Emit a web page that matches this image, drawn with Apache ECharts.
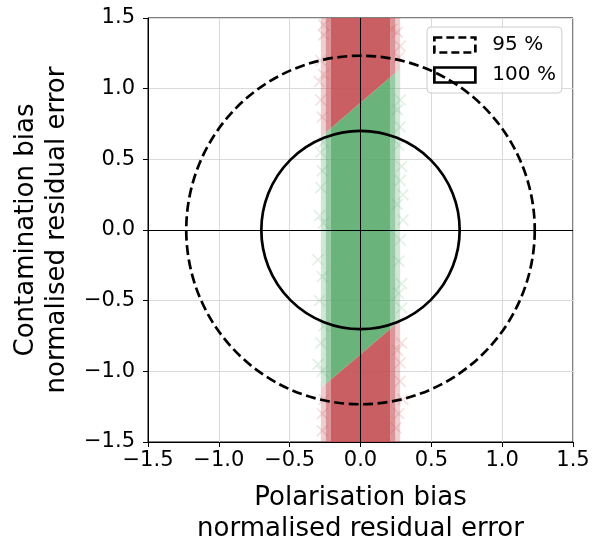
<!DOCTYPE html>
<html><head><meta charset="utf-8">
<script src="https://cdn.jsdelivr.net/npm/echarts@6/dist/echarts.min.js"></script>
<style>html,body{margin:0;padding:0;background:#fff}#c{width:592px;height:542px}</style>
</head><body><div id="c"></div>
<script>
// ---- data ----
const tickValues = [-1.5, -1.0, -0.5, 0.0, 0.5, 1.0, 1.5];
const circleNames = ['95 %', '100 %'];
const circleRadii = [1.23, 0.70];
// dense core of the sample band (polygon vertices, data coords)
const greenCore = [
  [[-0.21, -1.06], [0.21, -0.70], [0.21, 1.08], [-0.21, 0.72]]
];
const redCore = [
  [[-0.21, 0.72], [0.21, 1.08], [0.21, 1.5], [-0.21, 1.5]],
  [[-0.21, -1.5], [0.21, -1.5], [0.21, -0.70], [-0.21, -1.06]]
];
// inner fringe of the band
const greenHaloInner = [
  [[-0.245, -1.09], [-0.21, -1.06], [-0.21, 0.72], [-0.245, 0.69]],
  [[0.21, -0.70], [0.245, -0.67], [0.245, 1.11], [0.21, 1.08]]
];
const redHaloInner = [
  [[-0.245, 0.69], [-0.21, 0.72], [-0.21, 1.5], [-0.245, 1.5]],
  [[0.21, 1.08], [0.245, 1.11], [0.245, 1.5], [0.21, 1.5]],
  [[-0.245, -1.5], [-0.21, -1.5], [-0.21, -1.06], [-0.245, -1.09]],
  [[0.21, -1.5], [0.245, -1.5], [0.245, -0.67], [0.21, -0.70]]
];
// outer fringe of the band
const greenHaloOuter = [
  [[-0.28, -1.12], [-0.245, -1.09], [-0.245, 0.69], [-0.28, 0.66]],
  [[0.245, -0.67], [0.28, -0.64], [0.28, 1.14], [0.245, 1.11]]
];
const redHaloOuter = [
  [[-0.28, 0.66], [-0.245, 0.69], [-0.245, 1.5], [-0.28, 1.5]],
  [[0.245, 1.11], [0.28, 1.14], [0.28, 1.5], [0.245, 1.5]],
  [[-0.28, -1.5], [-0.245, -1.5], [-0.245, -1.09], [-0.28, -1.12]],
  [[0.245, -1.5], [0.28, -1.5], [0.28, -0.64], [0.245, -0.67]]
];
// sparse outlying samples
const greenSparse = [[-0.28, -0.80], [0.28, 0.73], [0.30, 0.07], [0.28, -0.07], [-0.30, -0.21],
  [-0.28, 0.30], [0.29, 0.45], [-0.29, -0.50], [0.29, -0.38], [0.28, 0.92], [-0.29, 0.10],
  [0.29, -0.55], [-0.28, 0.55], [0.30, 0.25], [-0.30, -0.95], [-0.27, -0.33], [0.27, -0.22],
  [-0.27, 0.42], [0.27, 0.60], [-0.26, -0.68], [0.26, 0.18], [-0.26, 0.05], [0.27, -0.45],
  [-0.27, -1.0], [0.26, 0.85], [-0.26, 0.62], [0.28, 0.35]];
const redSparse = [[-0.26, 1.38], [0.22, 1.42], [-0.28, 0.92], [0.28, -0.94], [0.28, -1.07],
  [0.25, -1.40], [-0.28, 1.20], [0.28, 1.30], [-0.27, -1.30], [0.30, -1.20], [-0.29, 1.05],
  [0.29, -0.80], [-0.27, 0.80], [0.27, 1.22], [-0.26, 1.45], [0.27, -1.30], [-0.27, -1.42],
  [0.26, -0.85], [-0.26, -1.20], [0.26, 1.40], [-0.26, 1.10]];

// ---- chart ----
const FONT = 'DejaVu Sans';
const GREEN = '#55a868', RED = '#c44e52';
const fmt = v => { const s = Number(v).toFixed(1); return s.replace('-', '\u2212'); };

function polySeries(name, polys, color, opacity, z) {
  return {
    type: 'custom', name: name, silent: true, z: z, clip: true,
    data: polys.map(p => p[0]),
    renderItem: (params, api) => {
      const poly = polys[params.dataIndex];
      return { type: 'polygon', shape: { points: poly.map(v => api.coord(v)) },
        style: { fill: color, opacity: opacity } };
    }
  };
}
function circleSeries(i) {
  return {
    type: 'custom', name: circleNames[i], silent: true, z: 5,
    data: [[0, 0, circleRadii[i]]],
    itemStyle: { color: 'transparent', borderColor: '#000' },
    renderItem: (params, api) => {
      const c = api.coord([api.value(0), api.value(1)]);
      const r = api.size([api.value(2), 0])[0];
      return { type: 'circle', shape: { cx: c[0], cy: c[1], r: r },
        style: { fill: null, stroke: '#000', lineWidth: 2.7, lineDash: i === 0 ? [10, 4.5] : null } };
    }
  };
}
const crossPath = 'path://M0,1L1,0L5,4L9,0L10,1L6,5L10,9L9,10L5,6L1,10L0,9L4,5Z';
function sparseSeries(name, pts, color) {
  return { type: 'scatter', name: name, silent: true, z: 2, data: pts,
    symbol: crossPath, symbolSize: 12, itemStyle: { color: color, opacity: 0.17 } };
}
const axisCommon = {
  type: 'value', min: -1.5, max: 1.5, interval: 0.5,
  axisLine: { show: true, onZero: false, lineStyle: { color: '#000', width: 1 } },
  axisTick: { show: true, length: 5, inside: false, lineStyle: { color: '#000', width: 1 } },
  splitLine: { show: true, lineStyle: { color: '#d9d9d9', width: 1 } },
  nameLocation: 'middle',
  nameTextStyle: { fontFamily: FONT, fontSize: 26, color: '#000', lineHeight: 31 }
};
const option = {
  animation: false,
  backgroundColor: '#fff',
  grid: { left: 148, right: 19, top: 18, bottom: 100, containLabel: false, outerBoundsMode: 'none',
    show: true, borderColor: '#000', borderWidth: 1, backgroundColor: 'transparent' },
  xAxis: Object.assign({}, axisCommon, {
    name: 'Polarisation bias\nnormalised residual error', nameGap: 41,
    axisLabel: { fontFamily: FONT, fontSize: 21, color: '#000', margin: 8, formatter: fmt,
      customValues: tickValues }
  }),
  yAxis: Object.assign({}, axisCommon, {
    name: 'Contamination bias\nnormalised residual error', nameGap: 73,
    axisLabel: { fontFamily: FONT, fontSize: 21, color: '#000', margin: 13, formatter: fmt,
      customValues: tickValues }
  }),
  legend: {
    orient: 'vertical', left: 427, top: 27, padding: [8, 6, 8, 6],
    itemWidth: 41, itemHeight: 15, itemGap: 10,
    backgroundColor: 'rgba(255,255,255,0.8)', borderColor: '#cccccc', borderWidth: 1, borderRadius: 4,
    textStyle: { fontFamily: FONT, fontSize: 20, color: '#000', padding: [0, 0, 0, 12] },
    data: [
      { name: circleNames[0], icon: 'rect', itemStyle: { color: 'rgba(0,0,0,0)', borderColor: '#000', borderWidth: 2.7, borderType: [8, 4] } },
      { name: circleNames[1], icon: 'rect', itemStyle: { color: 'rgba(0,0,0,0)', borderColor: '#000', borderWidth: 2.7, borderType: 'solid' } }
    ],
    selectedMode: false
  },
  series: [
    polySeries('greenHaloOuter', greenHaloOuter, GREEN, 0.28, 1),
    polySeries('redHaloOuter', redHaloOuter, RED, 0.28, 1),
    polySeries('greenHaloInner', greenHaloInner, GREEN, 0.6, 1),
    polySeries('redHaloInner', redHaloInner, RED, 0.6, 1),
    polySeries('greenCore', greenCore, GREEN, 0.88, 1),
    polySeries('redCore', redCore, RED, 0.9, 1),
    sparseSeries('greenSparse', greenSparse, GREEN),
    sparseSeries('redSparse', redSparse, RED),
    Object.assign(circleSeries(0), {
      markLine: { silent: true, symbol: 'none', animation: false, label: { show: false },
        lineStyle: { color: '#000', width: 1, type: 'solid' },
        data: [{ xAxis: 0 }, { yAxis: 0 }] }
    }),
    circleSeries(1)
  ]
};
const chart = echarts.init(document.getElementById('c'), null, { renderer: 'canvas' });
chart.setOption(option);
</script>
</body></html>
